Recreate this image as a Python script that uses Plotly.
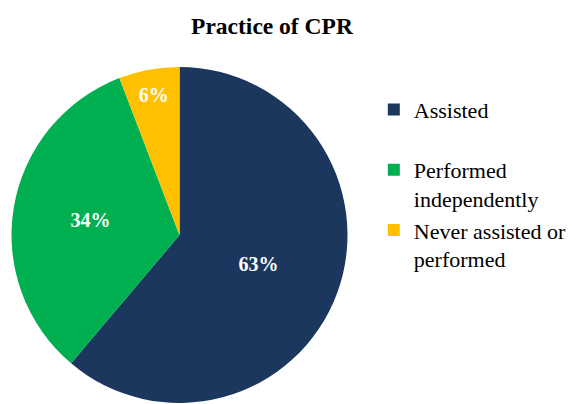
import plotly.graph_objects as go

categories = ["Assisted<br> ", "Performed<br>independently", "Never assisted or<br>performed"]
values = [63, 34, 6]
colors = ["#1B375E", "#00B050", "#FFC000"]

fig = go.Figure(go.Pie(
    labels=categories,
    values=values,
    sort=False,
    direction="clockwise",
    rotation=0,
    marker=dict(colors=colors, line=dict(color="white", width=0)),
    texttemplate="%{value}%",
    textposition="inside",
    insidetextorientation="horizontal",
    textfont=dict(family="Liberation Serif", size=20, color="white", weight="bold"),
    domain=dict(x=[0.0061, 0.5884], y=[0.0223, 0.854]),
    hoverinfo="label+value",
))

fig.update_layout(
    width=577, height=404,
    margin=dict(l=0, r=0, t=0, b=0),
    paper_bgcolor="white",
    title=dict(text="<b>Practice of CPR</b>", x=0.4575, xanchor="center", y=0.955, yanchor="middle",
               font=dict(family="Liberation Serif", size=23.5, color="black")),
    legend=dict(x=0.634, y=0.80, xanchor="left", yanchor="top", valign="top",
                font=dict(family="Liberation Serif", size=22, color="black"),
                itemwidth=30),
    showlegend=True,
)

fig.write_html("out.html")
